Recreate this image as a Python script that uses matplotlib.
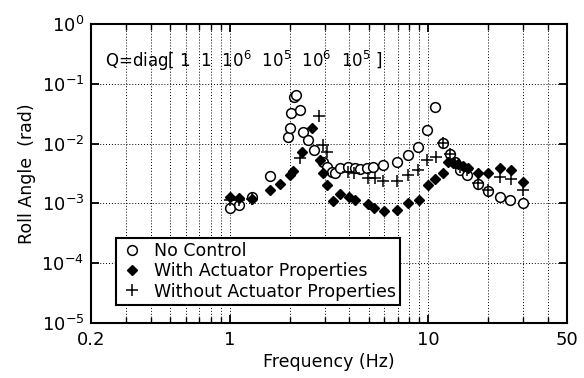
import matplotlib
matplotlib.use("Agg")
import matplotlib.pyplot as plt
from matplotlib.ticker import FixedLocator, NullFormatter

plt.rcParams["font.family"] = "DejaVu Sans"
plt.rcParams["mathtext.default"] = "regular"

# No Control (open circles)
f_nc = [1.0, 1.11, 1.29, 1.59, 1.97, 2.0, 2.04, 2.11, 2.16, 2.26, 2.35, 2.47, 2.64,
        2.95, 3.09, 3.27, 3.39, 3.59, 3.94, 4.28, 4.53, 4.91, 5.27, 5.92, 6.96,
        7.9, 8.88, 9.86, 10.8, 11.9, 12.8, 13.6, 14.4, 15.7, 17.8, 20.0, 23.0, 25.8, 30.0]
v_nc = [8.3e-4, 9.4e-4, 1.3e-3, 2.9e-3, 1.3e-2, 1.8e-2, 3.2e-2, 6.0e-2, 6.5e-2, 3.6e-2,
        1.56e-2, 1.15e-2, 7.8e-3,
        4.9e-3, 4.06e-3, 3.35e-3, 3.2e-3, 3.9e-3, 4.06e-3, 3.9e-3, 3.8e-3, 3.9e-3, 4.06e-3,
        4.4e-3, 4.9e-3, 6.45e-3, 8.8e-3, 1.69e-2, 4.1e-2, 1.02e-2, 6.7e-3, 4.9e-3, 3.6e-3,
        3.0e-3, 2.1e-3, 1.6e-3, 1.28e-3, 1.14e-3, 1.02e-3]

# With Actuator Properties (filled diamonds)
f_wa = [1.0, 1.11, 1.29, 1.59, 1.79, 2.0, 2.08, 2.31, 2.6, 2.85, 2.95, 3.09, 3.3, 3.59,
        3.98, 4.28, 4.97, 5.33, 5.98, 6.96, 7.9, 8.98, 9.97, 10.8, 11.9, 12.6, 13.3,
        14.1, 14.9, 15.8, 17.8, 20.0, 23.0, 26.0, 30.0]
v_wa = [1.28e-3, 1.23e-3, 1.2e-3, 1.67e-3, 2.1e-3, 3.0e-3, 3.5e-3, 7.2e-3, 1.82e-2,
        5.3e-3, 3.2e-3, 2.0e-3, 1.1e-3, 1.44e-3, 1.28e-3, 1.14e-3, 9.8e-4, 8.4e-4, 7.5e-4,
        7.8e-4, 1.02e-3, 1.14e-3, 2.0e-3, 2.57e-3, 3.2e-3, 4.9e-3, 4.75e-3, 4.6e-3,
        4.25e-3, 3.9e-3, 3.2e-3, 3.2e-3, 3.9e-3, 3.6e-3, 2.3e-3]

# Without Actuator Properties (plus)
f_na = [1.0, 1.11, 1.29, 2.26, 2.8, 2.95, 3.09, 3.94, 4.2, 4.97, 5.4, 5.92, 6.96, 7.9,
        8.88, 9.86, 10.9, 11.9, 12.8, 13.6, 14.4, 15.7, 17.8, 20.0, 23.0, 26.0, 30.0]
v_na = [1.15e-3, 1.15e-3, 1.2e-3, 5.8e-3, 2.9e-2, 9.5e-3, 7.2e-3, 3.4e-3, 3.2e-3,
        2.66e-3, 2.66e-3, 2.35e-3, 2.35e-3, 3.0e-3, 3.6e-3, 5.3e-3, 6.0e-3, 1.02e-2,
        6.7e-3, 4.8e-3, 4.06e-3, 3.6e-3, 2.2e-3, 1.67e-3, 2.75e-3, 2.57e-3, 1.67e-3]

x_ticks = [0.2, 1, 10, 50]
x_labels = ["0.2", "1", "10", "50"]
y_ticks = [1e-5, 1e-4, 1e-3, 1e-2, 1e-1, 1e0]
y_labels = ["$10^{-5}$", "$10^{-4}$", "$10^{-3}$", "$10^{-2}$", "$10^{-1}$", "$10^{0}$"]
x_minor = [0.3, 0.4, 0.5, 0.6, 0.7, 0.8, 0.9, 2, 3, 4, 5, 6, 7, 8, 9, 20, 30, 40]

fig = plt.figure(figsize=(5.84, 3.78), dpi=100)
ax = fig.add_axes([0.156, 0.146, 0.815, 0.79])
ax.set_xscale("log")
ax.set_yscale("log")
ax.set_xlim(0.2, 50)
ax.set_ylim(1e-5, 1)

ax.plot(f_nc, v_nc, "o", ms=7, mfc="white", mec="black", mew=1.1, label="No Control", zorder=3)
ax.plot(f_wa, v_wa, "D", ms=5.5, color="black", label="With Actuator Properties", zorder=4)
ax.plot(f_na, v_na, "+", ms=9, color="black", mew=1.1, label="Without Actuator Properties", zorder=5)

ax.xaxis.set_major_locator(FixedLocator(x_ticks))
ax.set_xticklabels(x_labels)
ax.xaxis.set_minor_locator(FixedLocator(x_minor))
ax.xaxis.set_minor_formatter(NullFormatter())
ax.yaxis.set_major_locator(FixedLocator(y_ticks))
ax.set_yticklabels(y_labels)
ax.yaxis.set_minor_locator(FixedLocator([]))

ax.tick_params(which="both", direction="in", top=True, right=True, labelsize=13)
ax.tick_params(which="major", length=6, width=1.3)
ax.tick_params(which="minor", length=4, width=1)
ax.tick_params(axis="x", pad=6)
ax.tick_params(axis="y", pad=5)

ax.grid(True, which="major", axis="both", color="black", ls=(0, (1, 2)), lw=0.7)
ax.grid(True, which="minor", axis="x", color="black", ls=(0, (1, 2)), lw=0.7)
for s in ax.spines.values():
    s.set_linewidth(1.5)

ax.set_xlabel("Frequency (Hz)", fontsize=12.5, labelpad=3)
ax.set_ylabel("Roll Angle  (rad)", fontsize=12.5, labelpad=4)

ax.text(0.03, 0.835, "Q=diag[ 1  1  $10^6$  $10^5$  $10^6$  $10^5$ ]", transform=ax.transAxes,
        fontsize=12, ha="left", va="bottom", zorder=6)

leg = ax.legend(loc="lower left", bbox_to_anchor=(0.053, 0.06), fontsize=12.5, frameon=True,
                fancybox=False, framealpha=1, edgecolor="black", handletextpad=0.6,
                borderpad=0.25, labelspacing=0.12, handlelength=1.3, borderaxespad=0)
leg.get_frame().set_linewidth(1.5)

plt.savefig("out.png", dpi=100)
plt.close(fig)
